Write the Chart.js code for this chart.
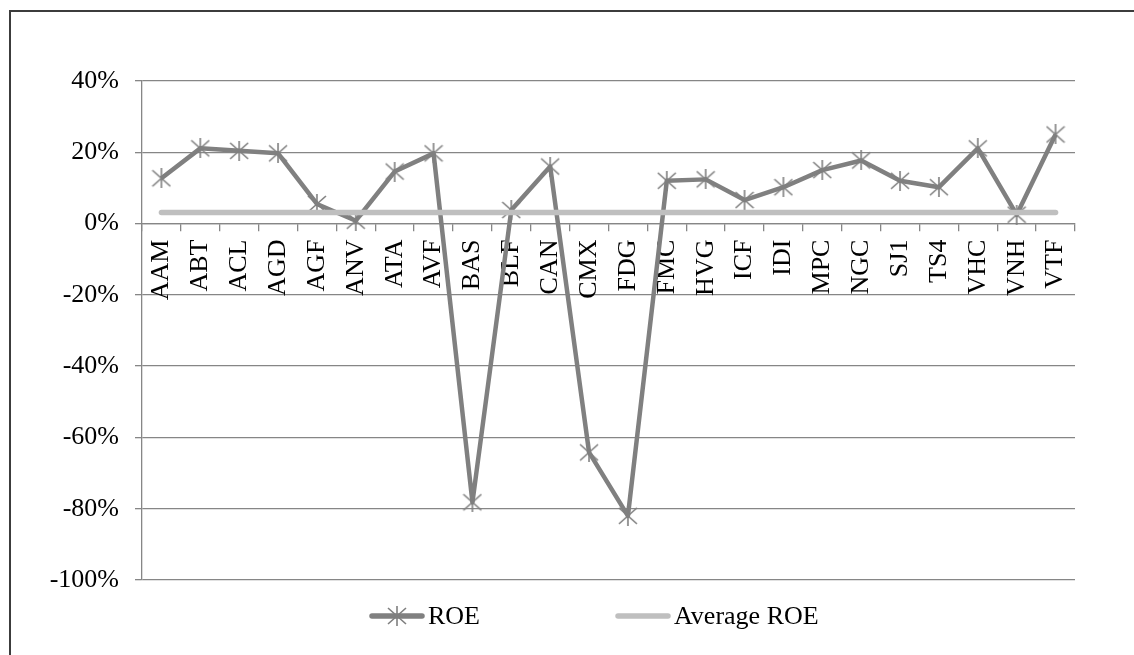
<!DOCTYPE html>
<html>
<head>
<meta charset="utf-8">
<script src="https://cdn.jsdelivr.net/npm/chart.js@4.4.1/dist/chart.umd.min.js"></script>
<style>
    html, body { margin: 0; padding: 0; background: #fff; }
    #wrap { position: relative; width: 1134px; height: 655px; }
</style>
</head>
<body>
<div id="wrap"><canvas id="roeChart" width="1134" height="655"></canvas></div>
<script>
// Data (ROE in %)
const tickers = ['AAM', 'ABT', 'ACL', 'AGD', 'AGF', 'ANV', 'ATA', 'AVF', 'BAS', 'BLF', 'CAN', 'CMX',
    'FDG', 'FMC', 'HVG', 'ICF', 'IDI', 'MPC', 'NGC', 'SJ1', 'TS4', 'VHC', 'VNH', 'VTF'];
const roeValues = [12.7, 21.1, 20.4, 19.7, 5.5, 0.8, 14.6, 19.7, -78.2, 3.8, 16.0, -64.2,
    -82.0, 12.0, 12.4, 6.6, 10.2, 15.0, 17.7, 12.0, 10.2, 21.1, 2.5, 25.0];
const averageRoe = 3.1;
const averageValues = tickers.map(() => averageRoe);
const yMin = -100;
const yMax = 40;
const yStep = 20;

const FONT_FAMILY = '"Liberation Serif", "Times New Roman", serif';
const FONT_SIZE = 26;
const GRID = '#868686';

// Excel-style star marker (X with a vertical bar)
function makeStar(size, color) {
    const c = document.createElement('canvas');
    c.width = size;
    c.height = size;
    const g = c.getContext('2d');
    g.strokeStyle = color;
    g.lineWidth = 1.6;
    const m = size / 2;
    g.beginPath();
    g.moveTo(1, 2); g.lineTo(size - 1, size - 2);
    g.moveTo(size - 1, 2); g.lineTo(1, size - 2);
    g.moveTo(m, 0); g.lineTo(m, size);
    g.stroke();
    return c;
}
const starMarker = makeStar(20, '#7f7f7f');

// White page plus the cut-off outer frame (top and left edges)
const framePlugin = {
    id: 'frame',
    beforeDraw(chart) {
        const ctx = chart.ctx;
        ctx.save();
        ctx.fillStyle = '#fff';
        ctx.fillRect(0, 0, chart.width, chart.height);
        ctx.strokeStyle = '#3c3c3c';
        ctx.lineWidth = 2;
        ctx.beginPath();
        ctx.moveTo(10, chart.height);
        ctx.lineTo(10, 11);
        ctx.lineTo(chart.width, 11);
        ctx.stroke();
        ctx.restore();
    },
};

// Legend drawn Excel-like: line sample with marker, then text
const legendPlugin = {
    id: 'excelLegend',
    afterDraw(chart) {
        const ctx = chart.ctx;
        const area = chart.chartArea;
        const y = area.bottom + 36;
        let x = area.left + 227;
        ctx.save();
        ctx.font = `${FONT_SIZE}px ${FONT_FAMILY}`;
        ctx.textBaseline = 'middle';
        ctx.textAlign = 'left';
        chart.data.datasets.forEach(ds => {
            ctx.strokeStyle = ds.borderColor;
            ctx.lineWidth = 5.5;
            ctx.lineCap = 'round';
            ctx.beginPath();
            ctx.moveTo(x + 3, y);
            ctx.lineTo(x + 53, y);
            ctx.stroke();
            if (ds.pointRadius > 0) {
                ctx.drawImage(starMarker, x + 28 - starMarker.width / 2, y - starMarker.height / 2);
            }
            ctx.fillStyle = '#000';
            ctx.fillText(ds.label, x + 59, y + 1);
            x += 59 + ctx.measureText(ds.label).width + 135;
        });
        ctx.restore();
    },
};

const ctx = document.getElementById('roeChart').getContext('2d');
new Chart(ctx, {
    type: 'line',
    data: {
        labels: tickers,
        datasets: [
            {
                label: 'ROE',
                data: roeValues,
                borderColor: '#808080',
                backgroundColor: '#808080',
                borderWidth: 4.5,
                borderJoinStyle: 'round',
                tension: 0,
                pointStyle: starMarker,
                pointRadius: 10,
                pointHoverRadius: 10,
                order: 2,
            },
            {
                label: 'Average ROE',
                data: averageValues,
                borderColor: '#bfbfbf',
                backgroundColor: '#bfbfbf',
                borderWidth: 5.5,
                borderCapStyle: 'round',
                pointRadius: 0,
                pointHoverRadius: 0,
                order: 1,
            },
        ],
    },
    options: {
        responsive: false,
        animation: false,
        devicePixelRatio: 1,
        layout: { padding: { left: 0, top: 81, right: 59, bottom: 75 } },
        plugins: {
            legend: { display: false },
            tooltip: { enabled: false },
        },
        scales: {
            x: {
                type: 'category',
                position: { y: 0 },
                offset: true,
                grid: { offset: true, drawOnChartArea: false, drawTicks: true, tickLength: 7, color: GRID, lineWidth: 1.3 },
                border: { display: true, color: GRID, width: 1.3 },
                ticks: {
                    autoSkip: false,
                    minRotation: 90,
                    maxRotation: 90,
                    padding: 9,
                    color: '#000',
                    font: { family: FONT_FAMILY, size: FONT_SIZE },
                },
            },
            y: {
                min: yMin,
                max: yMax,
                afterFit: scale => { scale.width = 142; },
                grid: { color: GRID, lineWidth: 1.3, tickLength: 7 },
                border: { display: true, color: GRID, width: 1.3 },
                ticks: {
                    stepSize: yStep,
                    padding: 16,
                    color: '#000',
                    font: { family: FONT_FAMILY, size: FONT_SIZE },
                    callback: v => v + '%',
                },
            },
        },
    },
    plugins: [framePlugin, legendPlugin],
});
</script>
</body>
</html>
